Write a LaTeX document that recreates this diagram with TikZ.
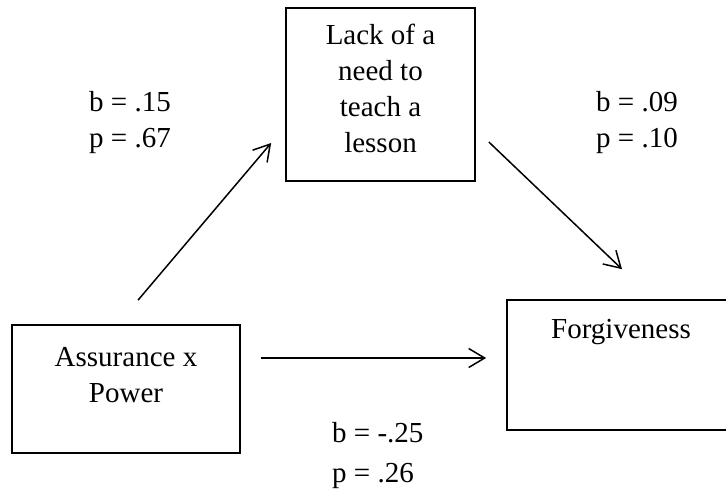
\documentclass[tikz,border=0pt]{standalone}
\usepackage{fontspec}
\setmainfont{Liberation Serif}
\usetikzlibrary{arrows.meta}

\begin{document}
\begin{tikzpicture}[>={Straight Barb[length=16pt,width=19pt]}, x=1pt, y=-1pt,
		every node/.style={font=\fontsize{29}{36}\selectfont},
		box/.style={draw, line width=1.7pt, inner sep=0pt},
		txt/.style={align=center, inner sep=0pt, anchor=base},
		coef/.style={align=left, inner sep=0pt, anchor=base west},
		arr/.style={->, line width=1.5pt}]
		% Page frame
		\useasboundingbox (0,0) rectangle (726,491);
		\clip (0,0) rectangle (726,491);
		
		% Boxes
		\node[box, minimum width=189pt, minimum height=173pt] (lack) at (380.5,94.5) {};
		\node[box, minimum width=228pt, minimum height=128pt] (assur) at (126,389) {};
		\node[box, minimum width=228pt, minimum height=130pt] (forgive) at (621,365) {};
		
		% Box texts (base = last line)
		\node[txt] (lacktxt) at (380.5,152) {Lack of a\\need to\\teach a\\lesson};
		\node[txt] (assurtxt) at (126,402) {Assurance x\\Power};
		\node[txt] (forgivetxt) at (621,338) {Forgiveness};
		
		% Paths
		\draw[arr] ([xshift=12pt,yshift=24pt]assur.north) -- ([xshift=-14pt,yshift=-48.5pt]lack.west);
		\draw[arr] ([xshift=13pt,yshift=-47.5pt]lack.east) -- ([xshift=1pt,yshift=30pt]forgive.north);
		\draw[arr] ([xshift=20pt,yshift=31pt]assur.east) -- ([xshift=-20pt,yshift=7pt]forgive.west);
		
		% Coefficients
		\node[coef] (coefa) at (89,147) {b = .15\\p = .67};
		\node[coef] (coefb) at (596,147) {b = .09\\p = .10};
		\node[coef] (coefc) at (332,482) {b = -.25\\[4pt]p = .26};
	\end{tikzpicture}
\end{document}
